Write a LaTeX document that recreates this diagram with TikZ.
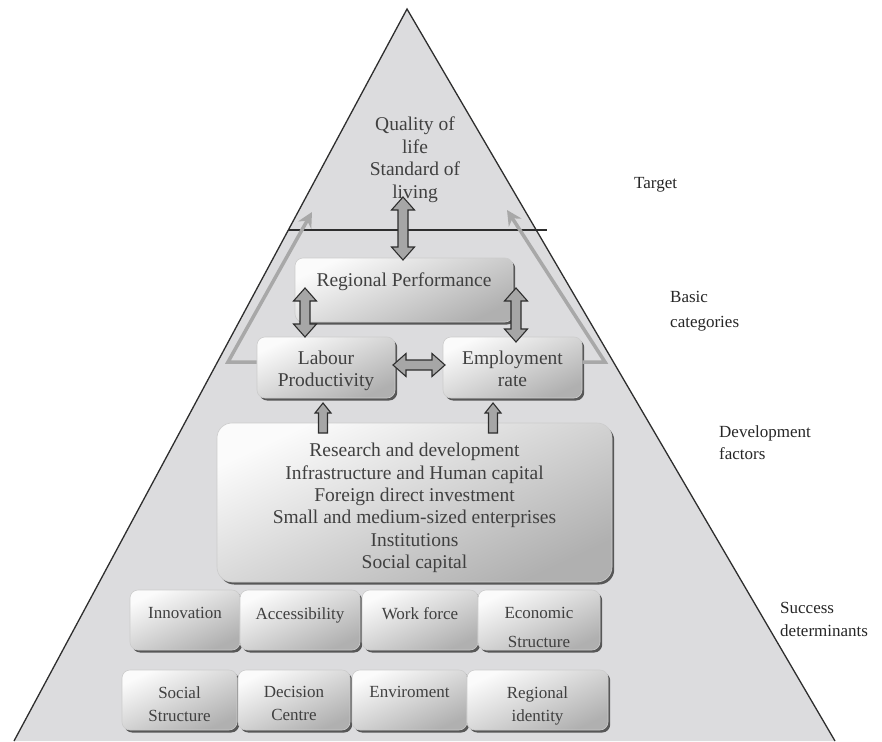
\documentclass[tikz,border=0pt]{standalone}
\usepackage{fontspec}
\setmainfont{Liberation Serif}
\usetikzlibrary{shadows,calc,arrows.meta}
\definecolor{tri}{HTML}{DCDCDE}
\definecolor{txt}{HTML}{404040}
\definecolor{edgec}{HTML}{2E2E2E}
\definecolor{garr}{HTML}{A8A8A8}
\definecolor{afill}{HTML}{A6A6A6}
\tikzset{
  box/.style={draw=gray!40, line width=0.6pt, rounded corners=8pt,
    top color=white!97!gray, bottom color=gray!62, shading angle=25,
    drop shadow={shadow xshift=2.2pt, shadow yshift=-2.5pt, fill=black!75, opacity=0.85},
    inner sep=0pt},
  btxt/.style={text=txt, font=\fontsize{19.5}{22.4}\selectfont, align=center, inner sep=0pt, anchor=north},
  stxt/.style={text=txt, font=\fontsize{17}{23}\selectfont, align=center, inner sep=0pt, anchor=north},
  side/.style={text=black!85, font=\fontsize{17}{23}\selectfont, align=left, inner sep=0pt, anchor=north west},
  barrow/.style={draw=edgec, line width=1.1pt, fill=afill, line join=miter},
  garrow/.style={draw=garr, line width=3.5pt, line join=miter, -{Stealth[length=15pt,width=15pt,inset=5pt]}},
  edgeline/.style={draw=edgec, line width=1.3pt}
}
% double block arrow: #1 from, #2 to, #3 head length, #4 head half width, #5 shaft half width
\newcommand{\BlockDArrow}[5]{%
  \path let \p1=(#1), \p2=(#2), \n1={atan2(\y2-\y1,\x2-\x1)}, \n2={veclen(\x2-\x1,\y2-\y1)} in
    \pgfextra{\pgfmathsetmacro\bAng{\n1}\pgfmathsetmacro\bLen{\n2}\xdef\bAng{\bAng}\xdef\bLen{\bLen}\xdef\bX{\x1}\xdef\bY{\y1}};
  \begin{scope}[shift={(\bX,\bY)}, rotate=\bAng]
    \draw[barrow] (0,0) -- (#3,#4) -- (#3,#5) -- ({\bLen-#3},#5) -- ({\bLen-#3},#4) -- (\bLen,0)
      -- ({\bLen-#3},-#4) -- ({\bLen-#3},-#5) -- (#3,-#5) -- (#3,-#4) -- cycle;
  \end{scope}}
\newcommand{\BlockSArrow}[5]{%
  \path let \p1=(#1), \p2=(#2), \n1={atan2(\y2-\y1,\x2-\x1)}, \n2={veclen(\x2-\x1,\y2-\y1)} in
    \pgfextra{\pgfmathsetmacro\bAng{\n1}\pgfmathsetmacro\bLen{\n2}\xdef\bAng{\bAng}\xdef\bLen{\bLen}\xdef\bX{\x1}\xdef\bY{\y1}};
  \begin{scope}[shift={(\bX,\bY)}, rotate=\bAng]
    \draw[barrow] (0,#5) -- ({\bLen-#3},#5) -- ({\bLen-#3},#4) -- (\bLen,0)
      -- ({\bLen-#3},-#4) -- ({\bLen-#3},-#5) -- (0,-#5) -- cycle;
  \end{scope}}
\begin{document}
\begin{tikzpicture}[x=1pt,y=-1pt]
\useasboundingbox (0,0) rectangle (882,741);
% pyramid
\coordinate (apex) at (407,9);
\coordinate (bl) at (14,741);
\coordinate (br) at (835,741);
\fill[tri] (apex) -- (bl) -- (br) -- cycle;
\draw[edgeline] (bl) -- (apex) -- (br);
% divider
\coordinate (hl1) at (288,230);
\coordinate (hl2) at (547,230);
\draw[edgeline] (hl1) -- (hl2);

% boxes
\node[box, minimum width=218pt, minimum height=64pt] (rp) at (404,290) {};
\node[box, minimum width=138pt, minimum height=61pt] (lp) at (326,367.5) {};
\node[box, minimum width=139pt, minimum height=61pt] (er) at (512.5,367.5) {};
\node[box, minimum width=395pt, minimum height=159pt, rounded corners=15pt] (df) at (414.5,502.5) {};

\node[box, minimum width=110pt, minimum height=60pt] (b11) at (185,620) {};
\node[box, minimum width=120pt, minimum height=60pt] (b12) at (300,620) {};
\node[box, minimum width=116pt, minimum height=60pt] (b13) at (420,620) {};
\node[box, minimum width=122pt, minimum height=60pt] (b14) at (539,620) {};

\node[box, minimum width=115pt, minimum height=60pt] (b21) at (179.5,700) {};
\node[box, minimum width=112pt, minimum height=60pt] (b22) at (294,700) {};
\node[box, minimum width=115pt, minimum height=60pt] (b23) at (409.5,700) {};
\node[box, minimum width=141pt, minimum height=60pt] (b24) at (537.5,700) {};

% gray guide arrows
\coordinate (gl1) at (228,362);
\coordinate (gl2) at (312,212);
\coordinate (gr1) at (605,362);
\coordinate (gr2) at (507,210);
\draw[garrow] (lp.west |- gl1) -- (gl1) -- (gl2);
\draw[garrow] (er.east |- gr1) -- (gr1) -- (gr2);
% redraw boxes edges over guide lines not needed

% texts
\node[btxt] (qt) at (415,117) {Quality of\\life\\Standard of\\living};
\node[btxt] (rpt) at (rp.center |- 0,273) {Regional Performance};
\node[btxt, font=\fontsize{19.5}{22}\selectfont] (lpt) at (lp.center |- 0,351) {Labour\\Productivity};
\node[btxt, font=\fontsize{19.5}{22}\selectfont] (ert) at (er.center |- 0,351) {Employment\\rate};
\node[btxt] (dft) at (df.center |- 0,443) {Research and development\\Infrastructure and Human capital\\Foreign direct investment\\Small and medium-sized enterprises\\Institutions\\Social capital};

\node[stxt, font=\fontsize{17}{29}\selectfont] (t11) at (b11.center |- 0,607) {Innovation};
\node[stxt, font=\fontsize{17}{29}\selectfont] (t12) at (b12.center |- 0,607) {Accessibility};
\node[stxt, font=\fontsize{17}{29}\selectfont] (t13) at (b13.center |- 0,607) {Work force};
\node[stxt, font=\fontsize{17}{29}\selectfont] (t14) at (b14.center |- 0,607) {Economic\\Structure};

\node[stxt] (t21) at (b21.center |- 0,686) {Social\\Structure};
\node[stxt] (t22) at (b22.center |- 0,686) {Decision\\Centre};
\node[stxt] (t23) at (b23.center |- 0,686) {Enviroment};
\node[stxt] (t24) at (b24.center |- 0,686) {Regional\\identity};

% side labels
\node[side] (lt) at (634,177) {Target};
\node[side, font=\fontsize{17}{25}\selectfont] (lb) at (670,291) {Basic\\categories};
\node[side, font=\fontsize{17}{22}\selectfont] (ld) at (719,425) {Development\\factors};
\node[side] (ls) at (780,602) {Success\\determinants};

% block arrows
\coordinate (a1s) at (403,197);
\coordinate (a1e) at (403,260);
\BlockDArrow{a1s}{a1e}{13}{11.5}{5}
\coordinate (a2s) at (305,288);
\coordinate (a2e) at (305,337);
\BlockDArrow{a2s}{a2e}{13}{11.5}{5}
\coordinate (a3s) at (516,288);
\coordinate (a3e) at (516,342);
\BlockDArrow{a3s}{a3e}{13}{11.5}{5}
\coordinate (a4s) at (393,365);
\coordinate (a4e) at (445,365);
\BlockDArrow{a4s}{a4e}{13}{11.5}{5}
\coordinate (a5s) at (323,433);
\coordinate (a5e) at (323,403);
\BlockSArrow{a5s}{a5e}{10}{8}{4.5}
\coordinate (a6s) at (493,433);
\coordinate (a6e) at (493,403);
\BlockSArrow{a6s}{a6e}{10}{8}{4.5}
\end{tikzpicture}
\end{document}
